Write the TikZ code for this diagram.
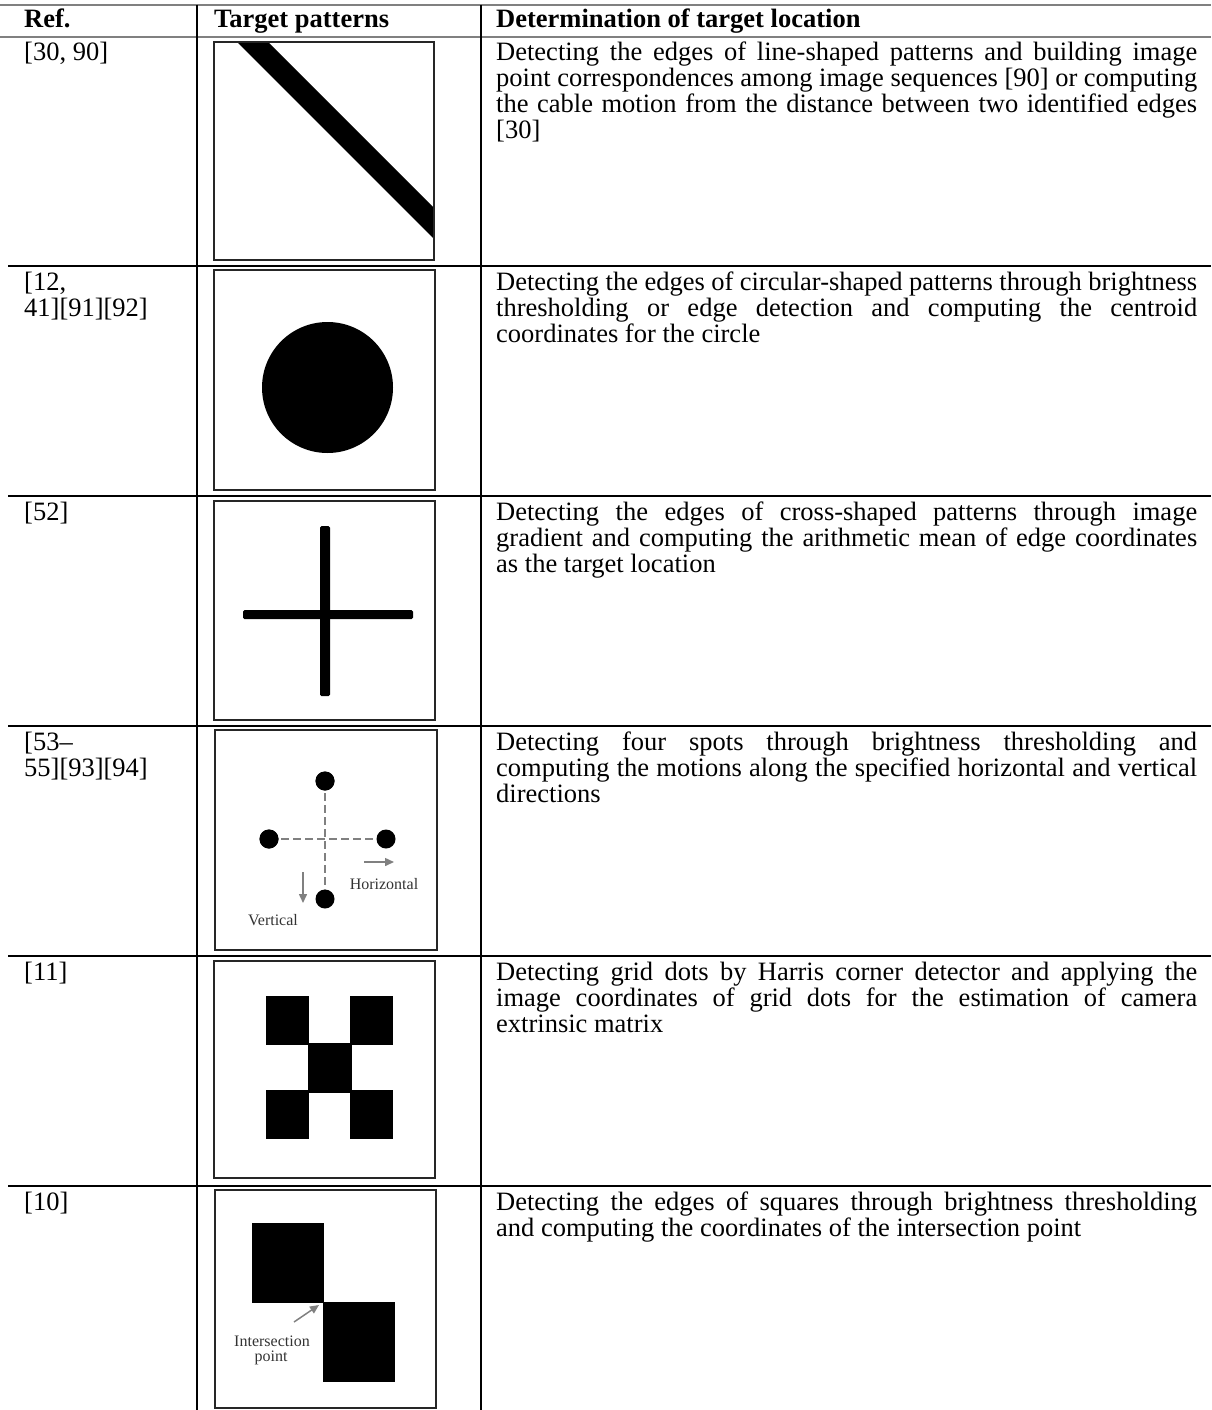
\documentclass[tikz,border=0pt]{standalone}
\usepackage{fontspec}
\setmainfont{Liberation Serif}
\usetikzlibrary{arrows.meta}
\newcommand\rowJ[1]{\hbox to 701pt{#1}}
\newcommand\rowL[1]{\hbox{#1}}
\newcommand\cellstack[1]{\vtop{\baselineskip=26pt\lineskiplimit=-100pt\lineskip=0pt #1}}
\tikzset{
  txt/.style={font=\fontsize{26.5}{26}\selectfont, inner sep=0pt, anchor=base west},
  hdr/.style={font=\fontsize{26.5}{26}\selectfont\bfseries, inner sep=0pt, anchor=base west},
  blackrule/.style={line width=2.5pt, draw=black},
  grayrule/.style={line width=2pt, draw=black!50},
  picbox/.style={draw=black!85, line width=2pt},
  ink/.style={fill=black},
  small/.style={font=\fontsize{16}{13}\selectfont, text=black!80, inner sep=0pt, anchor=base},
  garrow/.style={draw=black!50, line width=1.5pt, -{Triangle[length=9pt,width=8pt]}},
  gdash/.style={draw=black!50, line width=2pt, dash pattern=on 8pt off 4pt},
  spot/.style={circle, fill=black, inner sep=0pt, minimum size=19pt},
}
\begin{document}
\begin{tikzpicture}[x=1pt,y=-1pt]
\useasboundingbox (0,0) rectangle (1211,1410);
% rules
\draw[grayrule] (0,5) -- (1211,5);
\draw[grayrule] (0,37) -- (1211,37);
\foreach \yy in {266,496,726,956,1186} \draw[blackrule] (8,\yy) -- (1211,\yy);
\draw[blackrule] (197,5) -- (197,1410);
\draw[blackrule] (481,5) -- (481,1410);
% header
\node[hdr] (h1) at (24,28) {Ref.};
\node[hdr] (h2) at (214,28) {Target patterns};
\node[hdr] (h3) at (496,28) {Determination of target location};
% column 1
\node[txt] (r1) at (24,61) {\cellstack{\rowL{[30, 90]}}};
\node[txt] (r2) at (24,290) {\cellstack{\rowL{[12,}\rowL{41][91][92]}}};
\node[txt] (r3) at (24,520) {\cellstack{\rowL{[52]}}};
\node[txt] (r4) at (24,750) {\cellstack{\rowL{[53--}\rowL{55][93][94]}}};
\node[txt] (r5) at (24,980) {\cellstack{\rowL{[11]}}};
\node[txt] (r6) at (24,1210) {\cellstack{\rowL{[10]}}};
% column 3
\node[txt] (d1) at (496,61) {\cellstack{%
\rowJ{Detecting the edges of line-shaped patterns and building image}%
\rowJ{point correspondences among image sequences [90] or computing}%
\rowJ{the cable motion from the distance between two identified edges}%
\rowL{[30]}}};
\node[txt] (d2) at (496,290) {\cellstack{%
\rowJ{Detecting the edges of circular-shaped patterns through brightness}%
\rowJ{thresholding or edge detection and computing the centroid}%
\rowL{coordinates for the circle}}};
\node[txt] (d3) at (496,520) {\cellstack{%
\rowJ{Detecting the edges of cross-shaped patterns through image}%
\rowJ{gradient and computing the arithmetic mean of edge coordinates}%
\rowL{as the target location}}};
\node[txt] (d4) at (496,750) {\cellstack{%
\rowJ{Detecting four spots through brightness thresholding and}%
\rowJ{computing the motions along the specified horizontal and vertical}%
\rowL{directions}}};
\node[txt] (d5) at (496,980) {\cellstack{%
\rowJ{Detecting grid dots by Harris corner detector and applying the}%
\rowJ{image coordinates of grid dots for the estimation of camera}%
\rowL{extrinsic matrix}}};
\node[txt] (d6) at (496,1210) {\cellstack{%
\rowJ{Detecting the edges of squares through brightness thresholding}%
\rowL{and computing the coordinates of the intersection point}}};
% row 1 pattern: diagonal band
\fill[ink] (237,42) -- (268,42) -- (434,208) -- (434,239) -- cycle;
\draw[picbox] (214,42) rectangle (434,260);
% row 2 pattern: circle
\fill[ink] (327.5,387.5) circle[radius=65.5];
\draw[picbox] (214,270) rectangle (435,490);
% row 3 pattern: cross
\fill[ink, rounded corners=1.5pt] (320,526) rectangle (330,696);
\fill[ink, rounded corners=1.5pt] (243,610) rectangle (413,619);
\draw[picbox] (214,501) rectangle (435,720);
% row 4 pattern: four spots
\node[spot] (st) at (325,781) {};
\node[spot] (sl) at (269,839) {};
\node[spot] (sr) at (386,839) {};
\node[spot] (sb) at (325,899) {};
\draw[gdash] (sl.center) -- (sr.west);
\draw[gdash] (st.center) -- (sb.north);
\node[spot] at (st) {};
\node[spot] at (sl) {};
\coordinate (ha) at (364,862); \coordinate (hb) at (394,862);
\coordinate (va) at (303,872); \coordinate (vb) at (303,903);
\draw[garrow] (ha) -- (hb);
\draw[garrow] (va) -- (vb);
\node[small] (lh) at (384,889) {Horizontal};
\node[small] (lv) at (273,925) {Vertical};
\draw[picbox] (215,730) rectangle (437,950);
% row 5 pattern: grid dots
\fill[ink] (266,996) rectangle (309,1045);
\fill[ink] (350,996) rectangle (393,1045);
\fill[ink] (308,1043) rectangle (352,1093);
\fill[ink] (266,1090) rectangle (309,1139);
\fill[ink] (350,1090) rectangle (393,1139);
\draw[picbox] (214,961) rectangle (435,1178);
% row 6 pattern: two squares
\fill[ink] (252,1223) rectangle (324,1303);
\fill[ink] (323,1302) rectangle (395,1382);
\coordinate (ia) at (294,1322); \coordinate (ib) at (319,1305);
\draw[garrow] (ia) -- (ib);
\node[small] (li) at (272,1346) {Intersection};
\node[small] (lp) at (271,1361) {point};
\draw[picbox] (215,1190) rectangle (436,1408);
\end{tikzpicture}
\end{document}
